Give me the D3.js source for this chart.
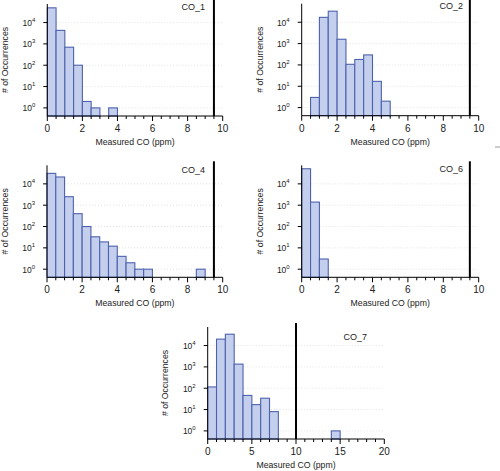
<!DOCTYPE html>
<html><head><meta charset="utf-8">
<script src="https://cdn.jsdelivr.net/npm/d3@7"></script>
<style>body{margin:0;background:#fff}svg{display:block}text{font-family:"Liberation Sans",Arial,sans-serif;fill:#222}</style>
</head><body>
<svg id="c" width="500" height="471"></svg>
<script>
// ---- data ----
const panelNames = ["CO_1", "CO_2", "CO_4", "CO_6", "CO_7"];
const binWidths = [0.5, 0.5, 0.5, 0.5, 1];
const xMaxes = [10, 10, 10, 10, 20];
const xTickLabels = [[0,2,4,6,8,10],[0,2,4,6,8,10],[0,2,4,6,8,10],[0,2,4,6,8,10],[0,5,10,15,20]];
const thresholds = [9.5, 9.5, 9.5, 9.5, 10];
const co1Counts = [49000, 4300, 700, 100, 2, 1, 0, 1];
const co2Counts = [0, 3, 17000, 33000, 1600, 107, 180, 295, 17, 2];
const co4Counts = [31000, 21000, 2500, 400, 100, 33, 19, 12, 4, 2, 1, 1, 0, 0, 0, 0, 0, 1];
const co6Counts = [51000, 1400, 3];
const co7Counts = [115, 20000, 34000, 1350, 46, 17, 34, 8, 0, 0, 0, 0, 0, 0, 1];
const yDecades = [0, 1, 2, 3, 4];
const seriesCounts = [co1Counts, co2Counts, co4Counts, co6Counts, co7Counts];

// ---- layout (positions only) ----
const layouts = [
  {x0: 47.3, x1: 222.7, axisY: 116, titleX: 5, labX: 205, labY: 10},
  {x0: 301.7, x1: 478.7, axisY: 115.7, titleX: 260, labX: 463, labY: 9},
  {x0: 47, x1: 222.7, axisY: 277.3, titleX: 5, labX: 205, labY: 173},
  {x0: 301.7, x1: 478.7, axisY: 277.3, titleX: 260, labX: 463, labY: 172},
  {x0: 207.7, x1: 384.3, axisY: 439, titleX: 165, labX: 367, labY: 340}
];
const plotH = 112;
const fillC = "#c4cfee", strokeC = "#4d62ad";

const svg = d3.select("#c");

layouts.forEach((L, i) => {
  const g = svg.append("g");
  const x = d3.scaleLinear().domain([0, xMaxes[i]]).range([L.x0, L.x1]);
  const y = d3.scaleLog().domain([Math.pow(10, -0.38), Math.pow(10, 4.87)]).range([L.axisY, L.axisY - plotH]);
  const top = L.axisY - plotH;

  // gridlines
  g.selectAll("line.grid").data(yDecades).enter().append("line")
    .attr("x1", L.x0).attr("x2", L.x1)
    .attr("y1", d => y(Math.pow(10, d))).attr("y2", d => y(Math.pow(10, d)))
    .attr("stroke", "#dcdcdc").attr("stroke-width", 0.8).attr("stroke-dasharray", "1,2");

  // bars
  const bw = binWidths[i];
  const bars = seriesCounts[i].map((c, k) => ({c, a: k * bw, b: (k + 1) * bw})).filter(d => d.c > 0);
  g.selectAll("rect.bar").data(bars).enter().append("rect")
    .attr("x", d => x(d.a)).attr("width", d => x(d.b) - x(d.a))
    .attr("y", d => y(d.c)).attr("height", d => L.axisY - y(d.c))
    .attr("fill", fillC).attr("stroke", strokeC).attr("stroke-width", 1.1);

  // threshold line
  g.append("line").attr("x1", x(thresholds[i])).attr("x2", x(thresholds[i]))
    .attr("y1", top - 4).attr("y2", L.axisY).attr("stroke", "#000").attr("stroke-width", 2);

  // x axis
  const minorStep = bw;
  const minors = d3.range(0, xMaxes[i] + 1e-9, minorStep);
  g.append("line").attr("x1", L.x0).attr("x2", L.x1).attr("y1", L.axisY).attr("y2", L.axisY)
    .attr("stroke", "#000").attr("stroke-width", 1);
  g.selectAll("line.mt").data(minors).enter().append("line")
    .attr("x1", d => x(d)).attr("x2", d => x(d))
    .attr("y1", L.axisY).attr("y2", d => L.axisY + (xTickLabels[i].includes(+d.toFixed(3)) ? 5 : 3))
    .attr("stroke", "#000").attr("stroke-width", 1);
  g.selectAll("text.xt").data(xTickLabels[i]).enter().append("text")
    .attr("x", d => x(d)).attr("y", L.axisY + 16).attr("text-anchor", "middle")
    .attr("font-size", 10).text(d => d);
  g.append("text").attr("x", (L.x0 + L.x1) / 2).attr("y", L.axisY + 29).attr("text-anchor", "middle")
    .attr("font-size", 8.7).text("Measured CO (ppm)");

  // y axis
  g.append("line").attr("x1", L.x0).attr("x2", L.x0).attr("y1", top).attr("y2", L.axisY)
    .attr("stroke", "#000").attr("stroke-width", 1);
  g.selectAll("line.yt").data(yDecades).enter().append("line")
    .attr("x1", L.x0 - 4).attr("x2", L.x0)
    .attr("y1", d => y(Math.pow(10, d))).attr("y2", d => y(Math.pow(10, d)))
    .attr("stroke", "#000").attr("stroke-width", 1);
  const yl = g.selectAll("text.yl").data(yDecades).enter().append("text")
    .attr("x", L.x0 - 12).attr("y", d => y(Math.pow(10, d)) + 3.5)
    .attr("text-anchor", "end").attr("font-size", 8.5);
  yl.append("tspan").text("10");
  yl.append("tspan").attr("dy", -4).attr("font-size", 6).text(d => d);

  g.append("text").attr("transform", `translate(${L.titleX + 3},${L.axisY - plotH / 2}) rotate(-90)`)
    .attr("text-anchor", "middle").attr("font-size", 8.7).text("# of Occurrences");

  // label
  g.append("text").attr("x", L.labX).attr("y", L.labY).attr("text-anchor", "end")
    .attr("font-size", 9).text(panelNames[i]);
});

// small stray dash at right edge
svg.append("line").attr("x1", 495).attr("x2", 500).attr("y1", 147).attr("y2", 147)
  .attr("stroke", "#999").attr("stroke-width", 1);
</script>
</body></html>
